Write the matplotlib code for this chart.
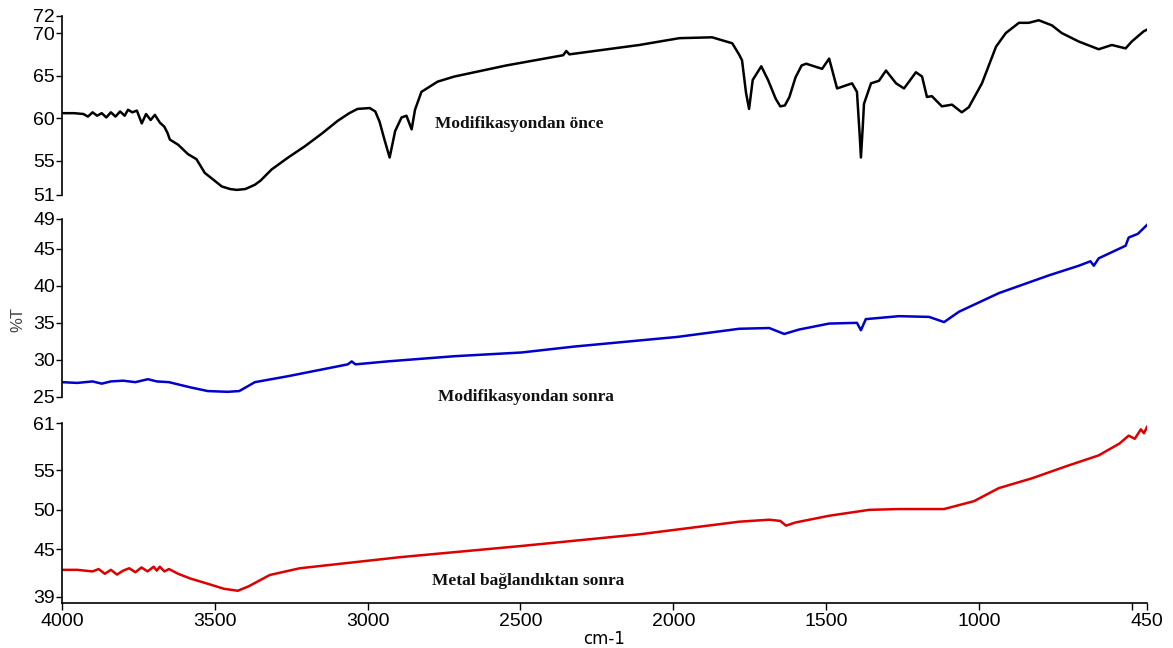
import matplotlib
matplotlib.use('Agg')
import matplotlib.pyplot as plt

# FTIR spectra (wavenumber cm-1, %T)

wn_once = [4000, 3960, 3930, 3915, 3900, 3885, 3870, 3855, 3840, 3825, 3810, 3795,
           3784, 3770, 3755, 3739, 3725, 3710, 3696, 3680, 3665, 3655, 3647, 3620,
           3588, 3560, 3533, 3505, 3477, 3450, 3428, 3400, 3369, 3350, 3314, 3260,
           3206, 3150, 3098, 3060, 3033, 2993, 2975, 2961, 2945, 2928, 2910, 2889,
           2873, 2856, 2845, 2824, 2771, 2716, 2546, 2360, 2350, 2340, 2111, 1980,
           1873, 1807, 1785, 1775, 1762, 1752, 1740, 1712, 1690, 1665, 1650, 1635,
           1620, 1600, 1580, 1565, 1513, 1490, 1464, 1415, 1399, 1390, 1386, 1380,
           1376, 1353, 1327, 1304, 1271, 1245, 1206, 1186, 1170, 1154, 1121, 1088,
           1056, 1033, 990, 944, 912, 869, 837, 804, 761, 729, 673, 608, 565, 520,
           500, 461, 450]
t_once = [60.6, 60.6, 60.5, 60.2, 60.7, 60.3, 60.6, 60.1, 60.7, 60.2, 60.8, 60.3,
          61.0, 60.7, 60.9, 59.4, 60.5, 59.8, 60.4, 59.5, 59.0, 58.3, 57.5, 56.9,
          55.8, 55.2, 53.6, 52.8, 52.0, 51.7, 51.6, 51.7, 52.2, 52.7, 54.0, 55.4,
          56.7, 58.2, 59.7, 60.6, 61.1, 61.2, 60.8, 59.6, 57.5, 55.4, 58.5, 60.1,
          60.3, 58.7, 61.0, 63.1, 64.3, 64.9, 66.2, 67.4, 67.9, 67.5, 68.6, 69.4,
          69.5, 68.8, 67.5, 66.8, 63.0, 61.1, 64.5, 66.1, 64.5, 62.3, 61.4, 61.5,
          62.5, 64.8, 66.2, 66.4, 65.8, 67.0, 63.5, 64.1, 63.1, 58.0, 55.4, 59.0,
          61.7, 64.1, 64.4, 65.6, 64.1, 63.5, 65.4, 64.9, 62.5, 62.6, 61.4, 61.6,
          60.7, 61.3, 64.1, 68.4, 70.0, 71.2, 71.2, 71.5, 70.9, 70.0, 69.0, 68.1,
          68.6, 68.2, 69.0, 70.2, 70.4]

wn_sonra = [4000, 3950, 3900, 3870, 3840, 3800, 3760, 3719, 3690, 3650, 3580, 3523,
            3458, 3420, 3369, 3261, 3065, 3052, 3040, 2935, 2716, 2497, 2324, 1987,
            1784, 1686, 1637, 1588, 1490, 1399, 1386, 1370, 1261, 1163, 1114, 1065,
            935, 771, 673, 635, 624, 608, 520, 510, 480, 450]
t_sonra = [27.0, 26.9, 27.1, 26.8, 27.1, 27.2, 27.0, 27.4, 27.1, 27.0, 26.3, 25.8,
           25.7, 25.8, 27.0, 27.8, 29.4, 29.8, 29.4, 29.8, 30.5, 31.0, 31.8, 33.1,
           34.2, 34.3, 33.5, 34.1, 34.9, 35.0, 34.0, 35.5, 35.9, 35.8, 35.1, 36.5,
           39.0, 41.4, 42.7, 43.3, 42.7, 43.7, 45.4, 46.5, 47.0, 48.2]

wn_metal = [4000, 3950, 3900, 3880, 3860, 3840, 3820, 3800, 3780, 3760, 3740, 3720,
            3700, 3690, 3680, 3665, 3650, 3620, 3580, 3520, 3470, 3425, 3390, 3320,
            3222, 2895, 2503, 2111, 1784, 1686, 1650, 1631, 1600, 1490, 1359, 1261,
            1114, 1016, 935, 826, 716, 608, 540, 510, 490, 470, 460, 450]
t_metal = [42.4, 42.4, 42.2, 42.5, 41.9, 42.4, 41.8, 42.3, 42.6, 42.1, 42.7, 42.2,
           42.8, 42.3, 42.8, 42.2, 42.5, 41.9, 41.3, 40.6, 40.0, 39.75, 40.3, 41.75,
           42.6, 44.0, 45.4, 46.9, 48.5, 48.75, 48.6, 48.0, 48.4, 49.25, 50.0, 50.1,
           50.1, 51.1, 52.75, 54.0, 55.5, 56.9, 58.4, 59.4, 59.0, 60.2, 59.7, 60.5]

xticks = [4000, 3500, 3000, 2500, 2000, 1500, 1000, 500, 450]
xticklabels = ['4000', '3500', '3000', '2500', '2000', '1500', '1000', '', '450']

panels = [
    (wn_once, t_once, 'black', (51, 72), [51, 55, 60, 65, 70, 72], 'Modifikasyondan önce', (2781, 59.3)),
    (wn_sonra, t_sonra, '#0000cc', (25, 49), [25, 30, 35, 40, 45, 49], 'Modifikasyondan sonra', (2771, 25.0)),
    (wn_metal, t_metal, '#dd0000', (38.2, 61), [39, 45, 50, 55, 61], 'Metal bağlandıktan sonra', (2788, 41.0)),
]

W, H = 1173, 648
fig = plt.figure(figsize=(W / 100, H / 100), dpi=100)

# pixel boxes (top, bottom) of each panel
boxes = [(16, 195), (219, 397), (423, 603)]
left, right = 62, 1147

for i, (wn, t, col, ylim, yt, label, pos) in enumerate(panels):
    top, bot = boxes[i]
    ax = fig.add_axes([left / W, 1 - bot / H, (right - left) / W, (bot - top) / H])
    ax.plot(wn, t, color=col, lw=1.8)
    ax.set_xlim(4000, 450)
    ax.set_ylim(*ylim)
    ax.set_yticks(yt)
    ax.tick_params(axis='y', labelsize=14, length=4, width=1, pad=1)
    for s in ['top', 'right']:
        ax.spines[s].set_visible(False)
    ax.spines['left'].set_linewidth(1.2)
    ax.text(pos[0], pos[1], label, fontsize=12.5, fontweight='bold',
            family='Liberation Serif', color='#111111', va='center', ha='left')
    if i < 2:
        ax.spines['bottom'].set_visible(False)
        ax.set_xticks([])
    else:
        ax.spines['bottom'].set_linewidth(1.2)
        ax.set_xticks(xticks)
        ax.set_xticklabels(xticklabels)
        ax.tick_params(axis='x', labelsize=14, length=5, width=1, pad=2)
        ax.set_xlabel('cm-1', fontsize=12, labelpad=0)
    for lab in ax.get_xticklabels() + ax.get_yticklabels():
        lab.set_family('Liberation Sans')

fig.text(18 / W, 1 - 320 / H, '%T', rotation=90, fontsize=12, color='#444444',
         family='Liberation Sans', ha='center', va='center')

fig.savefig('out.png', dpi=100)
